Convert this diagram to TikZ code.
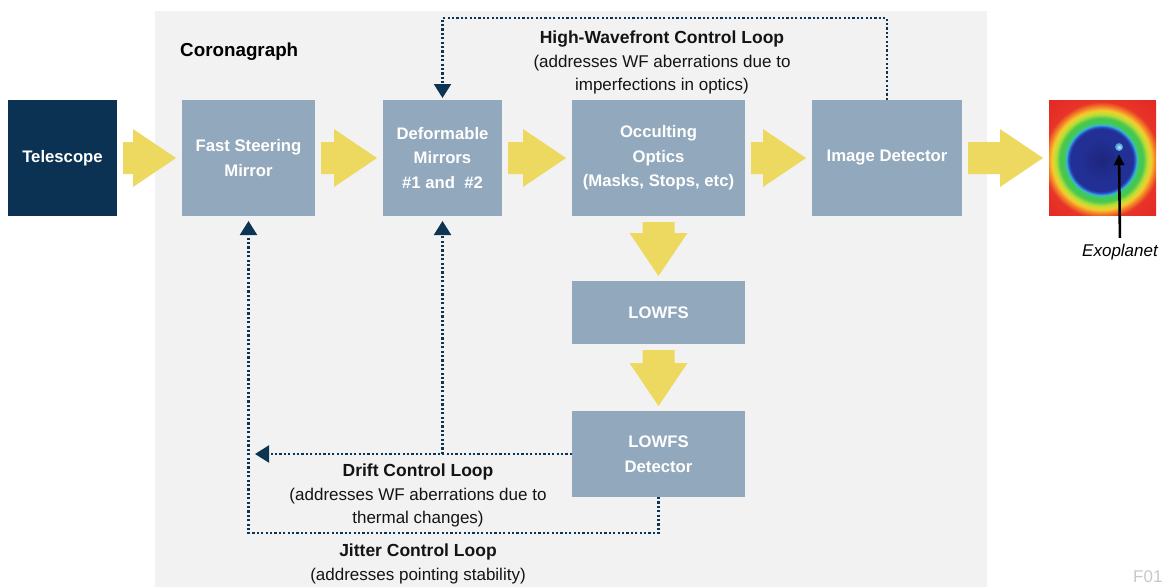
\documentclass[tikz,border=0pt]{standalone}
\usepackage{fontspec}
\setmainfont{Liberation Sans}
\usetikzlibrary{calc,arrows.meta}

\definecolor{panelgray}{RGB}{242,242,242}
\definecolor{boxblue}{RGB}{146,168,188}
\definecolor{telnavy}{RGB}{11,50,82}
\definecolor{loopnavy}{RGB}{14,52,84}
\definecolor{flowyellow}{RGB}{237,216,96}
\definecolor{fidgray}{RGB}{200,200,200}

% false-colour coronagraph image
\definecolor{exoA}{RGB}{30,38,125}
\definecolor{exoB}{RGB}{34,48,150}
\definecolor{exoC}{RGB}{45,85,200}
\definecolor{exoD}{RGB}{50,185,215}
\definecolor{exoE}{RGB}{70,200,80}
\definecolor{exoF}{RGB}{185,222,55}
\definecolor{exoG}{RGB}{244,205,45}
\definecolor{exoH}{RGB}{242,125,40}
\definecolor{exoI}{RGB}{232,52,40}
\definecolor{exoJ}{RGB}{225,40,38}
% 25bp corresponds to the radius of the shaded circle (80 units)
\pgfdeclareradialshading{exoshade}{\pgfpoint{0bp}{0bp}}{%
  color(0bp)=(exoA); color(7bp)=(exoB); color(9.8bp)=(exoB);
  color(10.4bp)=(exoC); color(11bp)=(exoD); color(11.7bp)=(exoE);
  color(13bp)=(exoE); color(14.3bp)=(exoF); color(15.5bp)=(exoG);
  color(16.8bp)=(exoH); color(18.2bp)=(exoI); color(25bp)=(exoJ);
  color(50bp)=(exoJ)}

\newcommand\boxfont{\bfseries\fontsize{16.7}{24.5}\selectfont}
\newcommand\notefont{\fontsize{17}{23.5}\selectfont}
\newcommand\notetitle{\fontsize{17.5}{23.5}\selectfont\bfseries}

% yellow block arrow from one node to the next (left to right)
\newcommand\hflow[2]{%
  \fill[flowyellow] let \p1=($(#1.east)+(6,0)$), \p2=($(#2.west)-(6,0)$) in
    (\x1,\y1+16pt) -- (\x2-43pt,\y1+16pt) -- (\x2-43pt,\y1+29pt) -- (\x2,\y1)
    -- (\x2-43pt,\y1-29pt) -- (\x2-43pt,\y1-16pt) -- (\x1,\y1-16pt) -- cycle;}
% yellow block arrow from one node to the next (top to bottom)
\newcommand\vflow[2]{%
  \fill[flowyellow] let \p1=($(#1.south)+(0,6)$), \p2=($(#2.north)-(0,5)$) in
    (\x1-16pt,\y1) -- (\x1-16pt,\y2+43pt) -- (\x1-29pt,\y2+43pt) -- (\x1,\y2)
    -- (\x1+29pt,\y2+43pt) -- (\x1+16pt,\y2+43pt) -- (\x1+16pt,\y1) -- cycle;}

\begin{document}
\begin{tikzpicture}[x=1pt,y=-1pt,
  box/.style={fill=boxblue, text=white, inner sep=0pt, outer sep=0pt,
    align=center, font=\boxfont},
  loopline/.style={draw=loopnavy, line width=2.2pt, dash pattern=on 2.2pt off 2.2pt},
  looptip/.style={-{Triangle[width=17pt,length=14pt]}},
  note/.style={align=center, inner sep=0pt, font=\notefont, text=black!92}]

\useasboundingbox (0,0) rectangle (1164,587);

% coronagraph enclosure
\fill[panelgray] (155,11) rectangle (987,587);
\node[anchor=west, inner sep=0pt, font=\fontsize{18.8}{22}\selectfont\bfseries]
  (corona) at (180,52) {Coronagraph};

% optical train
\node[box, fill=telnavy, minimum width=109pt, minimum height=116pt]
  (tel) at (62.5,158) {Telescope};
\node[box, minimum width=133pt, minimum height=116pt]
  (fsm) at (248.5,158) {Fast Steering\\Mirror};
\node[box, minimum width=119pt, minimum height=116pt]
  (dm) at (442.5,158) {Deformable\\Mirrors\\\#1 and\ \ \#2};
\node[box, minimum width=173pt, minimum height=116pt]
  (occ) at (658.5,158) {Occulting\\Optics\\(Masks, Stops, etc)};
\node[box, minimum width=150pt, minimum height=116pt]
  (det) at (887,158) {Image Detector};
\node[box, minimum width=173pt, minimum height=63pt]
  (lowfs) at (658.5,312.5) {LOWFS};
\node[box, minimum width=173pt, minimum height=86pt]
  (lowdet) at (658.5,454) {LOWFS\\Detector};

% detector image with the planet
\node[inner sep=0pt, outer sep=0pt, minimum width=107pt, minimum height=115pt]
  (exo) at (1102.5,157.5) {};
\begin{scope}
  \clip (exo.north west) rectangle (exo.south east);
  \fill[exoJ] (exo.north west) rectangle (exo.south east);
  \shade[shading=exoshade] (1101.5,160) circle (80);
\end{scope}
\node[circle, inner sep=0pt, minimum size=8pt, shading=radial,
  inner color={rgb,255:red,190;green,235;blue,250},
  outer color={rgb,255:red,60;green,140;blue,220}] (planet) at (1119,147) {};
\node[inner sep=0pt, font=\notefont\itshape] (exolabel) at (1120,252) {Exoplanet};
\draw[line width=2.6pt, -{Triangle[width=10pt,length=11pt]}, shorten <=6pt, shorten >=3pt]
  (exolabel.north) -- (planet.south);

% light path
\hflow{tel}{fsm}
\hflow{fsm}{dm}
\hflow{dm}{occ}
\hflow{occ}{det}
\hflow{det}{exo}
\vflow{occ}{lowfs}
\vflow{lowfs}{lowdet}

% high-wavefront control loop
\coordinate (hwtop) at (660,18);
\draw[loopline, looptip, shorten >=2pt] (det.north) |- (hwtop) -| (dm.north);
\node[note] (hwnote) at (662,62.5)
  {{\notetitle High-Wavefront Control Loop}\\(addresses WF aberrations due to\\imperfections in optics)};

% drift control loop
\coordinate (driftend) at (255,454);
\coordinate (driftjoin) at (dm.south |- lowdet.west);
\draw[loopline, looptip] (lowdet.west) -- (driftend);
\draw[loopline, looptip, shorten >=5pt] (driftjoin) -- (dm.south);
\node[note] (driftnote) at (418,495.5)
  {{\notetitle Drift Control Loop}\\(addresses WF aberrations due to\\thermal changes)};

% jitter control loop
\coordinate (jitbottom) at (418,533);
\draw[loopline, looptip, shorten >=5pt] (lowdet.south) |- (jitbottom) -| (fsm.south);
\node[note] (jitnote) at (418,564)
  {{\notetitle Jitter Control Loop}\\(addresses pointing stability)};

% figure tag
\node[anchor=west, inner sep=0pt, font=\notefont, text=fidgray] (tag) at (1133,577) {F01};
\end{tikzpicture}
\end{document}
